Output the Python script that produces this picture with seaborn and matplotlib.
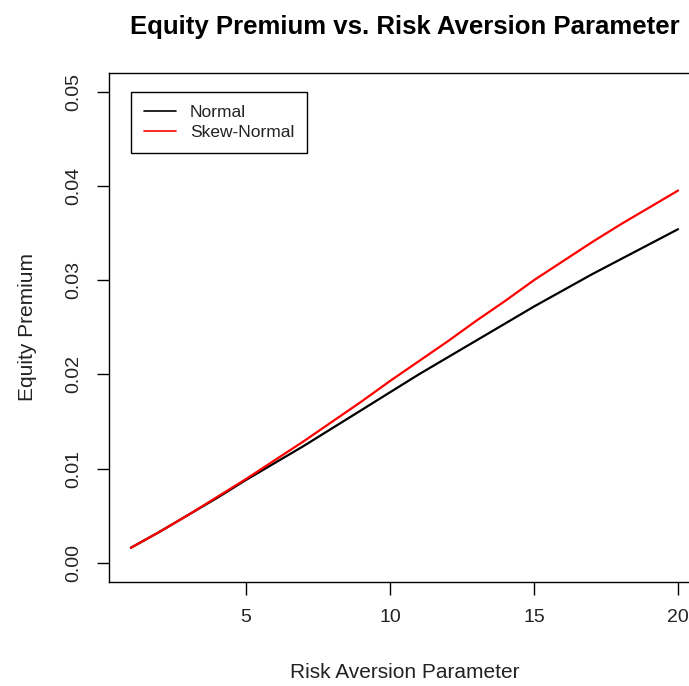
import matplotlib
matplotlib.use("Agg")
import matplotlib.pyplot as plt
import numpy as np
import pandas as pd
import seaborn as sns

# ---- data ----
risk_aversion = list(range(1, 21))
normal = [0.0016, 0.0033, 0.0051, 0.0069, 0.0088, 0.0106, 0.0124, 0.0143, 0.0162, 0.0181,
          0.0200, 0.0218, 0.0236, 0.0254, 0.0272, 0.0289, 0.0306, 0.0322, 0.0338, 0.0354]
skew_normal = [0.0016, 0.0033, 0.0051, 0.0070, 0.0089, 0.0109, 0.0129, 0.0150, 0.0171, 0.0193,
               0.0214, 0.0235, 0.0257, 0.0278, 0.0300, 0.0320, 0.0340, 0.0359, 0.0377, 0.0395]
series_names = ["Normal", "Skew-Normal"]
series_colors = ["black", "red"]
x_ticks = [5, 10, 15, 20]
y_ticks = [0.00, 0.01, 0.02, 0.03, 0.04, 0.05]
y_tick_labels = ["0.00", "0.01", "0.02", "0.03", "0.04", "0.05"]

df = pd.DataFrame({
    "gamma": risk_aversion * 2,
    "premium": normal + skew_normal,
    "dist": [series_names[0]] * len(normal) + [series_names[1]] * len(skew_normal),
})

sns.set_style("white")
plt.rcParams["font.family"] = ["Liberation Sans", "DejaVu Sans"]

W, H = 689, 686
fig = plt.figure(figsize=(W / 100, H / 100), dpi=100)
L, R, T, B = 109, 700, 72.7, 581.7
ax = fig.add_axes([L / W, (H - B) / H, (R - L) / W, (B - T) / H])

sns.lineplot(data=df, x="gamma", y="premium", hue="dist",
             palette=dict(zip(series_names, series_colors)),
             linewidth=1.6, ax=ax, legend=False)

ax.set_xlim(0.24, 20.76)
ax.set_ylim(-0.002, 0.052)
ax.set_xticks(x_ticks)
ax.set_xticklabels([str(t) for t in x_ticks])
ax.set_yticks(y_ticks)
ax.set_yticklabels(y_tick_labels, rotation=90, va="center")

for s in ax.spines.values():
    s.set_visible(True)
    s.set_color("black")
    s.set_linewidth(1.0)

ax.tick_params(axis="both", which="major", direction="out", length=9, width=1,
               color="black", labelsize=14, labelcolor="#222222",
               bottom=True, left=True)
ax.tick_params(axis="x", pad=11)
ax.tick_params(axis="y", pad=10)

ax.set_xlabel("Risk Aversion Parameter", fontsize=15, color="#222222", va="center")
ax.xaxis.set_label_coords(0.5, (B - 673) / (B - T))
ax.set_ylabel("Equity Premium", fontsize=15, color="#222222", va="center")
ax.yaxis.set_label_coords((28 - L) / (R - L), 0.5)

ax.set_title("Equity Premium vs. Risk Aversion Parameter", fontsize=18.5,
             fontweight="bold", color="black", y=(B - 27) / (B - T), va="center", pad=0)

handles = ax.get_lines()[:2]
leg = ax.legend(handles, series_names, loc="upper left",
                bbox_to_anchor=((130.7 - L) / (R - L), (B - 91.7) / (B - T)),
                borderaxespad=0, fontsize=12.5, frameon=True, fancybox=False,
                edgecolor="black", framealpha=1, handlelength=1.85,
                handletextpad=0.8, borderpad=0.75, labelspacing=0.3)
leg.get_frame().set_linewidth(1.0)
for ln in leg.get_lines():
    ln.set_linewidth(1.2)
for t in leg.get_texts():
    t.set_color("#222222")

fig.savefig("out.png", dpi=100)
